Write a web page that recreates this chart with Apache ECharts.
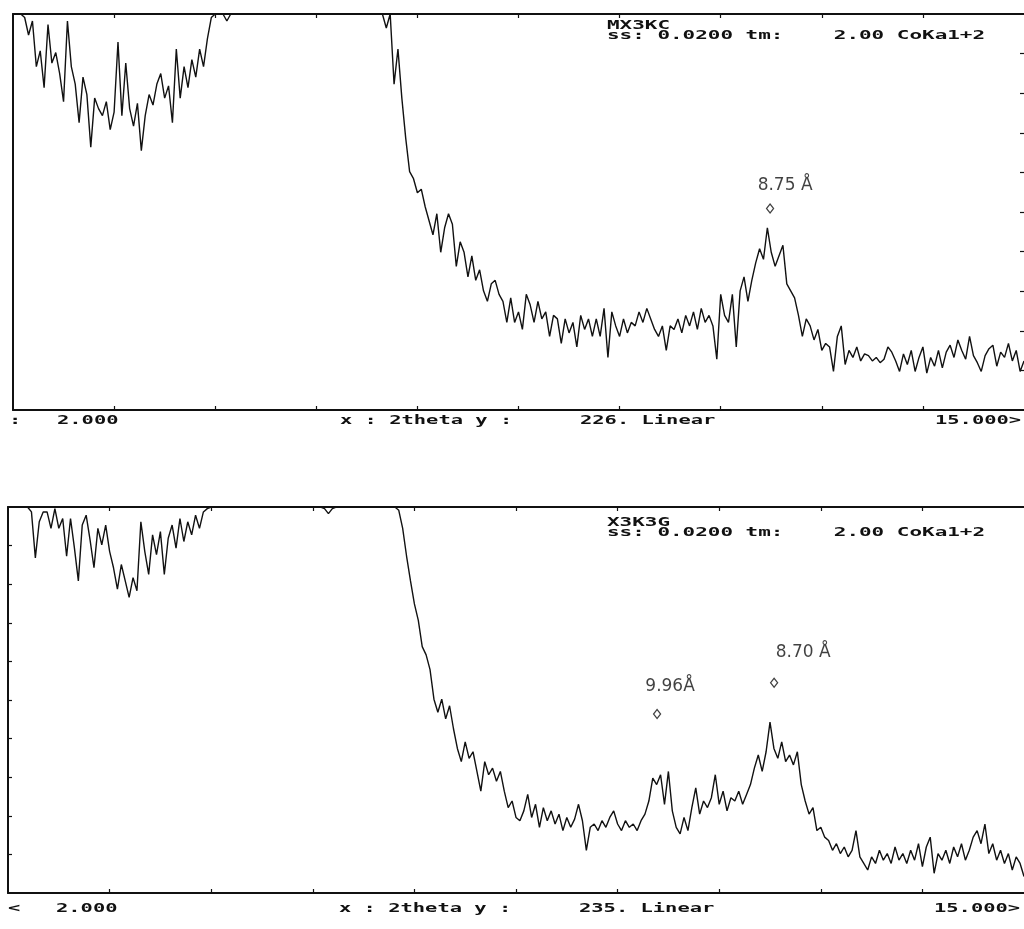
<!DOCTYPE html>
<html>
<head>
<meta charset="utf-8">
<script src="https://cdn.jsdelivr.net/npm/echarts@6/dist/echarts.min.js"></script>
<style>
  html, body { margin: 0; padding: 0; background: #ffffff; }
  #chart { width: 1024px; height: 929px; }
</style>
</head>
<body>
<div id="chart"></div>
<script>
// Scan grid (degrees 2theta) used for both patterns
const scanStart = 2.0;
const scanStep = 0.05;

// Sample MX3KC, counts per step (full scale 226, clipped above)
const topCounts = [
  226,226,226,224,214,222,196,205,184,220,
  198,204,192,176,222,196,186,164,190,180,
  150,178,172,168,176,160,170,210,168,198,
  172,162,175,148,168,180,174,186,192,178,
  185,164,206,178,196,184,200,190,206,196,
  212,224,226,226,226,222,226,226,226,226,
  226,226,226,226,226,226,226,226,226,226,
  226,226,226,226,226,226,226,226,226,226,
  226,226,226,226,226,226,226,226,226,226,
  226,226,226,226,226,226,218,226,186,206,
  178,155,136,132,124,126,116,108,100,112,
  90,104,112,106,82,96,90,76,88,74,
  80,68,62,72,74,66,62,50,64,50,
  56,46,66,60,50,62,52,56,42,54,
  52,38,52,44,50,36,54,46,52,42,
  52,42,58,30,56,48,42,52,44,50,
  48,56,50,58,52,46,42,48,34,48,
  46,52,44,54,48,56,46,58,50,54,
  48,29,66,54,50,66,36,68,76,62,
  74,84,92,86,104,90,82,88,94,72,
  68,64,54,42,52,48,40,46,34,38,
  36,22,42,48,26,34,30,36,28,32,
  31,28,30,27,29,36,33,28,22,32,
  26,34,22,30,36,21,30,25,34,24,
  33,37,30,40,34,29,42,31,27,22,
  31,35,37,25,33,30,38,28,34,22,28
];

// Sample X3K3G, counts per step (full scale 235, clipped above)
const bottomCounts = [
  235,235,235,235,235,235,232,204,226,232,
  232,222,234,222,228,205,228,210,190,224,
  230,215,198,222,212,224,208,198,185,200,
  190,180,192,184,226,208,194,218,206,220,
  194,216,224,210,228,214,226,218,230,222,
  232,234,235,235,235,235,235,235,235,235,
  235,235,235,235,235,235,235,235,235,235,
  235,235,235,235,235,235,235,235,235,235,
  235,234,231,234,235,235,235,235,235,235,
  235,235,235,235,235,235,235,235,235,235,
  233,222,205,190,176,166,150,145,136,118,
  110,118,106,114,100,88,80,92,82,86,
  74,62,80,72,76,68,74,62,52,56,
  46,44,50,60,46,54,40,52,44,50,
  42,48,38,46,40,45,54,44,26,40,
  42,38,44,40,46,50,42,38,44,40,
  42,38,44,48,56,70,66,72,54,74,
  50,40,36,46,38,52,64,48,56,52,
  58,72,54,62,50,58,56,62,54,60,
  66,76,84,74,86,104,88,82,92,80,
  84,78,86,66,56,48,52,38,40,34,
  32,26,30,24,28,22,26,38,22,18,
  14,22,18,26,20,24,18,28,20,24,
  18,26,20,30,16,28,34,12,24,20,
  26,18,28,22,30,20,26,34,38,30,
  42,24,30,20,26,18,24,14,22,18,10
];

// Axis ranges and tick marks
const xRange = [2, 15];
const topFullScale = 226;
const bottomFullScale = 235;
const xTicks = [3.3, 4.6, 5.9, 7.2, 8.5, 9.8, 11.1, 12.4, 13.7];
const topYTicks = [22.6, 45.2, 67.8, 90.4, 113, 135.6, 158.2, 180.8, 203.4];
const bottomYTicks = [23.5, 47, 70.5, 94, 117.5, 141, 164.5, 188, 211.5];

// Marked reflections: d-spacing (Å) and the height of the marker
const topPeaks = [{ d: 8.75, level: 115, text: '8.75 Å' }];
const bottomPeaks = [
  { d: 9.96, level: 109, text: '9.96Å' },
  { d: 8.70, level: 128, text: '8.70 Å' }
];

// Instrument header and footer text
const topHeader = ['MX3KC', 'ss: 0.0200 tm:    2.00 CoKa1+2'];
const bottomHeader = ['X3K3G', 'ss: 0.0200 tm:    2.00 CoKa1+2'];
const topFooter = [':', '2.000', 'x : 2theta y :', '226. Linear', '15.000>'];
const bottomFooter = ['<', '2.000', 'x : 2theta y :', '235. Linear', '15.000>'];

// Co K-alpha1 wavelength, for placing markers from d-spacings (Bragg's law)
const lambdaCo = 1.78897;
function twoTheta(d) {
  return 2 * Math.asin(lambdaCo / (2 * d)) * 180 / Math.PI;
}

function toPairs(counts) {
  return counts.map((v, i) => [+(scanStart + i * scanStep).toFixed(2), v]);
}

const ink = '#111111';

function xAxisFor(grid, pos) {
  return {
    gridIndex: grid, type: 'value', min: xRange[0], max: xRange[1], position: pos,
    axisLine: { show: true, onZero: false, lineStyle: { color: ink, width: 2 } },
    axisTick: { show: true, inside: true, length: 4, customValues: xTicks,
                lineStyle: { color: ink, width: 1.2 } },
    axisLabel: { show: false }, splitLine: { show: false }
  };
}

function yAxisFor(grid, max, pos, lineShown, ticks) {
  return {
    gridIndex: grid, type: 'value', min: 0, max: max, position: pos,
    axisLine: { show: lineShown, onZero: false, lineStyle: { color: ink, width: 2 } },
    axisTick: { show: !!ticks, inside: true, length: 4, customValues: ticks || [],
                lineStyle: { color: ink, width: 1.2 } },
    axisLabel: { show: false }, splitLine: { show: false }
  };
}

function peakSeries(xi, yi, peaks, offsets) {
  return {
    type: 'scatter', xAxisIndex: xi, yAxisIndex: yi,
    symbol: 'diamond', symbolSize: [7, 9],
    itemStyle: { color: '#ffffff', borderColor: ink, borderWidth: 1.3 },
    data: peaks.map((p, k) => ({
      value: [twoTheta(p.d), p.level],
      label: {
        show: true, formatter: p.text, position: 'inside', offset: offsets[k],
        color: ink, fontFamily: 'DejaVu Sans', fontWeight: 'normal', fontSize: 17
      }
    })),
    z: 5
  };
}

// Fixed-pitch printer text, stretched horizontally
function printed(text, x, y, size, pitch) {
  const advance = size * 0.602;
  return {
    type: 'text', x: x, y: y, scaleX: pitch / advance, silent: true,
    style: { text: text, font: 'bold ' + size + 'px "DejaVu Sans Mono"', fill: ink,
             verticalAlign: 'middle', align: 'left' }
  };
}

const footerX = [9, 57, 340, 580, 935];
const graphics = [];
topHeader.forEach((t, k) => graphics.push(printed(t, 607, 26 + k * 10, 12, 12.6)));
bottomHeader.forEach((t, k) => graphics.push(printed(t, 607, 523 + k * 10, 12, 12.6)));
topFooter.forEach((t, k) => graphics.push(printed(t, footerX[k], 421, 13, 12.3)));
bottomFooter.forEach((t, k) => graphics.push(printed(t, footerX[k] - 1, 909, 13, 12.3)));

const chart = echarts.init(document.getElementById('chart'), null, { renderer: 'canvas' });
chart.setOption({
  animation: false,
  backgroundColor: '#ffffff',
  grid: [
    { left: 13, top: 14, width: 1013, height: 396 },
    { left: 8, top: 507, width: 1018, height: 386 }
  ],
  xAxis: [
    xAxisFor(0, 'bottom'), xAxisFor(0, 'top'),
    xAxisFor(1, 'bottom'), xAxisFor(1, 'top')
  ],
  yAxis: [
    yAxisFor(0, topFullScale, 'left', true, null),
    yAxisFor(0, topFullScale, 'right', false, topYTicks),
    yAxisFor(1, bottomFullScale, 'left', true, bottomYTicks)
  ],
  series: [
    {
      type: 'line', xAxisIndex: 0, yAxisIndex: 0, data: toPairs(topCounts),
      showSymbol: false, clip: true,
      lineStyle: { color: ink, width: 1.4 }, z: 3
    },
    {
      type: 'line', xAxisIndex: 2, yAxisIndex: 2, data: toPairs(bottomCounts),
      showSymbol: false, clip: true,
      lineStyle: { color: ink, width: 1.4 }, z: 3
    },
    peakSeries(0, 0, topPeaks, [[15, -23]]),
    peakSeries(2, 2, bottomPeaks, [[13, -27], [29, -30]])
  ],
  graphic: graphics
});
</script>
</body>
</html>
